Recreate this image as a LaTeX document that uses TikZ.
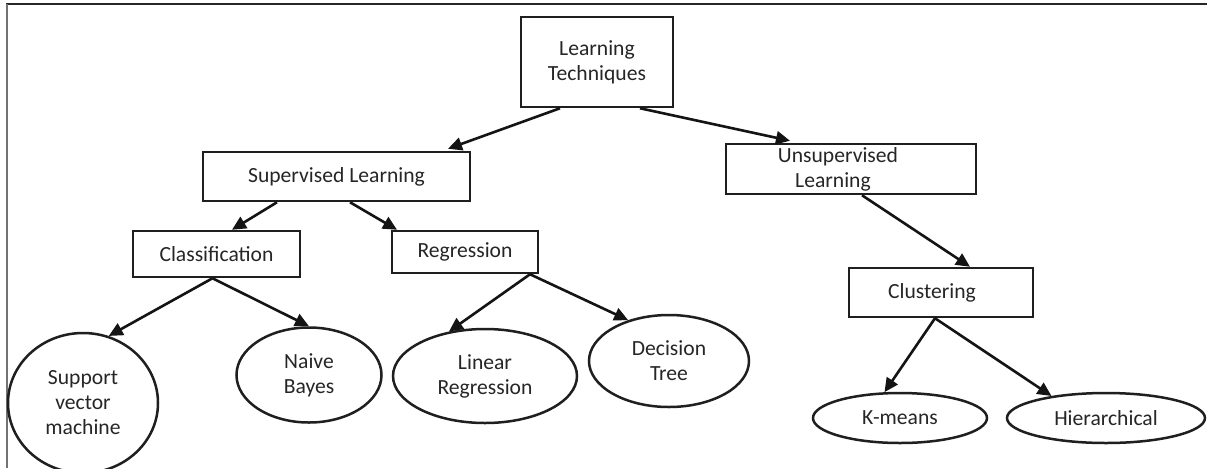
\documentclass[tikz,border=0pt]{standalone}
\usepackage{fontspec}
\setmainfont{Carlito}
\usetikzlibrary{shapes.geometric,arrows.meta}
\begin{document}
\begin{tikzpicture}[x=0.5pt,y=-0.5pt,
  lbl/.style={text=black!85, font=\fontsize{10.8}{12.5}\selectfont, align=center, inner sep=0pt},
  box/.style={lbl, draw=black!88, line width=1.25pt, rectangle},
  oval/.style={lbl, draw=black!88, line width=1.25pt, ellipse},
  arr/.style={line width=1.3pt, draw=black!92, -{Triangle[length=7pt,width=6.5pt]}}]
\useasboundingbox (0,0) rectangle (1207,468);
\fill[white] (0,0) rectangle (1207,468);
% frame
\draw[line width=0.8pt, black!85] (6,4) -- (1207,4);
\draw[line width=0.8pt, black!55] (7,4) -- (7,468);
% boxes
\node[box, minimum width=76pt, minimum height=45pt] (LT) at (597,62) {Learning\\Techniques};
\node[box, minimum width=133.5pt, minimum height=24.5pt] (SL) at (336.5,176.5) {Supervised Learning};
\node[box, minimum width=125pt, minimum height=25pt] (UL) at (851,169) {\hspace*{-13pt}Unsupervised\\\hspace*{-18pt}Learning};
\node[box, minimum width=83.5pt, minimum height=23pt] (CL) at (216.5,254) {Classification};
\node[box, minimum width=73pt, minimum height=21pt] (RG) at (465,252) {Regression};
\node[box, minimum width=92pt, minimum height=24.5pt] (CU) at (941,292.5) {\hspace*{-9pt}Clustering};
% ovals
\node[oval, minimum width=75pt, minimum height=70pt] (SVM) at (83,403) {Support\\vector\\machine};
\node[oval, minimum width=72.5pt, minimum height=47.5pt] (NB) at (309,375) {Naive\\Bayes};
\node[oval, minimum width=92pt, minimum height=47pt] (LR) at (485,376) {Linear\\Regression};
\node[oval, minimum width=80pt, minimum height=46pt] (DT) at (669,361) {Decision\\Tree};
\node[oval, minimum width=87pt, minimum height=25pt] (KM) at (900,418) {K-means};
\node[oval, minimum width=99pt, minimum height=25pt] (HI) at (1106,418) {Hierarchical};
% arrows
\draw[arr] ([xshift=-18.5pt]LT.south) -- ([xshift=55.75pt,yshift=1pt]SL.north);
\draw[arr] ([xshift=21.5pt]LT.south) -- ([xshift=-30.5pt,yshift=1pt]UL.north);
\draw[arr] ([xshift=-29.75pt]SL.south) -- ([xshift=7.75pt]CL.north);
\draw[arr] ([xshift=6.75pt]SL.south) -- ([xshift=-34pt]RG.north);
\draw[arr] ([xshift=-2pt]CL.south) -- (SVM.69);
\draw[arr] ([xshift=-2pt]CL.south) -- (NB.north);
\draw[arr] ([xshift=32.5pt]RG.south) -- (LR.129);
\draw[arr] ([xshift=32.5pt]RG.south) -- (DT.135);
\draw[arr] ([xshift=5.5pt]UL.south) -- ([xshift=14.5pt]CU.north);
\draw[arr] ([xshift=-3pt]CU.south) -- (KM.121);
\draw[arr] ([xshift=-3pt]CU.south) -- (HI.158);
\end{tikzpicture}
\end{document}
